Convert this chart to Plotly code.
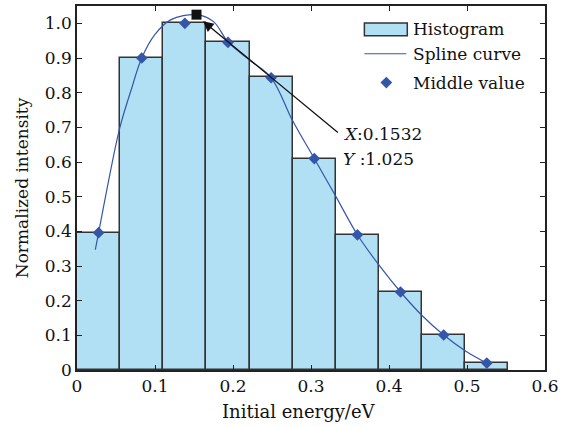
import plotly.graph_objects as go

# ---- data ----
bin_centers = [0.0277, 0.0830, 0.1383, 0.1936, 0.2489, 0.3042, 0.3595, 0.4148, 0.4701, 0.5254]
bin_width = 0.0553
hist_heights = [0.395, 0.900, 1.000, 0.946, 0.844, 0.610, 0.390, 0.226, 0.101, 0.020]
middle_x = [0.0277, 0.0830, 0.1383, 0.1936, 0.2489, 0.3042, 0.3595, 0.4148, 0.4701, 0.5254]
middle_y = [0.396, 0.900, 1.000, 0.945, 0.843, 0.610, 0.390, 0.225, 0.101, 0.020]
spline_x = [0.0235, 0.0277, 0.040, 0.055, 0.070, 0.083, 0.100, 0.120, 0.1532, 0.175,
            0.194, 0.222, 0.249, 0.2767, 0.3042, 0.332, 0.3595, 0.387, 0.4148, 0.442,
            0.4701, 0.498, 0.5254]
spline_y = [0.347, 0.396, 0.540, 0.700, 0.812, 0.900, 0.968, 1.010, 1.025, 1.005,
            0.945, 0.893, 0.843, 0.718, 0.610, 0.500, 0.390, 0.303, 0.225, 0.158,
            0.101, 0.055, 0.020]
peak_x, peak_y = 0.1532, 1.025
x_ticks = [0, 0.1, 0.2, 0.3, 0.4, 0.5, 0.6]
x_tick_text = ["0", "0.1", "0.2", "0.3", "0.4", "0.5", "0.6"]
y_ticks = [0, 0.1, 0.2, 0.3, 0.4, 0.5, 0.6, 0.7, 0.8, 0.9, 1.0]
y_tick_text = ["0", "0.1", "0.2", "0.3", "0.4", "0.5", "0.6", "0.7", "0.8", "0.9", "1.0"]

FONT = "DejaVu Serif"
BAR_FILL = "#b1e0f5"
EDGE = "#333333"
BLUE = "#3556a8"

fig = go.Figure()
fig.add_trace(go.Bar(x=bin_centers, y=hist_heights, width=[bin_width] * len(bin_centers),
                     marker=dict(color=BAR_FILL, line=dict(color=EDGE, width=1.5)),
                     showlegend=False))
fig.add_trace(go.Scatter(x=spline_x, y=spline_y, mode="lines",
                         line=dict(color=BLUE, width=1.2, shape="spline"), showlegend=False))
fig.add_trace(go.Scatter(x=middle_x, y=middle_y, mode="markers",
                         marker=dict(symbol="diamond", size=9, color=BLUE), showlegend=False))
fig.add_trace(go.Scatter(x=[peak_x], y=[peak_y], mode="markers",
                         marker=dict(symbol="square", size=10, color="#111111"), showlegend=False))

# arrow from label to the peak
fig.add_annotation(x=0.1617, y=1.006, ax=0.3364, ay=0.6816, xref="x", yref="y",
                   axref="x", ayref="y", text="", showarrow=True, arrowhead=2,
                   arrowsize=1.6, arrowwidth=1.3, arrowcolor="#111111")
fig.add_annotation(x=0.3385, y=0.680, xref="x", yref="y", xanchor="left", yanchor="middle",
                   text="<i>X</i>:0.1532", showarrow=False, font=dict(family=FONT, size=17, color="#111"))
fig.add_annotation(x=0.3385, y=0.610, xref="x", yref="y", xanchor="left", yanchor="middle",
                   text="<i>Y</i> :1.025", showarrow=False, font=dict(family=FONT, size=17, color="#111"))

# manual legend (paper coordinates)
def px2paper(px, py):
    return (px - 77) / 469.0, (370 - py) / 366.0

x0, y0 = px2paper(365, 21)
x1, y1 = px2paper(408, 34)
fig.add_shape(type="rect", xref="paper", yref="paper", x0=x0, y0=y1, x1=x1, y1=y0,
              fillcolor=BAR_FILL, line=dict(color=EDGE, width=1.5))
lx0, ly = px2paper(365, 52)
lx1, _ = px2paper(407, 52)
fig.add_shape(type="line", xref="paper", yref="paper", x0=lx0, y0=ly, x1=lx1, y1=ly,
              line=dict(color=BLUE, width=1.2))
dx, dy = px2paper(387, 81)
fig.add_trace(go.Scatter(x=[dx], y=[dy], xaxis="x2", yaxis="y2", mode="markers",
                         marker=dict(symbol="diamond", size=9, color=BLUE), showlegend=False,
                         hoverinfo="skip"))
for label, py in [("Histogram", 27.5), ("Spline curve", 52), ("Middle value", 81)]:
    tx, ty = px2paper(412, py)
    fig.add_annotation(x=tx, y=ty, xref="paper", yref="paper", xanchor="left", yanchor="middle",
                       text=label, showarrow=False, font=dict(family=FONT, size=17, color="#111"))

# x-axis title placed as in the reference
tx, ty = px2paper(299, 412)
fig.add_annotation(x=tx, y=ty, xref="paper", yref="paper", xanchor="center", yanchor="middle",
                   text="Initial energy/eV", showarrow=False,
                   font=dict(family=FONT, size=18, color="#111"))

axis_common = dict(showline=True, linecolor="#222222", linewidth=1.5, mirror="ticks",
                   ticks="inside", ticklen=5, tickwidth=1.2, tickcolor="#222222",
                   showgrid=False, zeroline=False,
                   tickfont=dict(family=FONT, size=17, color="#111"))
fig.update_layout(
    width=563, height=427,
    margin=dict(l=77, r=17, t=4, b=57),
    paper_bgcolor="white", plot_bgcolor="white",
    bargap=0, showlegend=False,
    xaxis=dict(range=[0, 0.6], tickvals=x_ticks, ticktext=x_tick_text, **axis_common),
    yaxis=dict(range=[0, 1.05], tickvals=y_ticks, ticktext=y_tick_text,
               title=dict(text="Normalized intensity", font=dict(family=FONT, size=17, color="#111"),
                          standoff=12), **axis_common),
    xaxis2=dict(range=[0, 1], overlaying="x", visible=False),
    yaxis2=dict(range=[0, 1], overlaying="y", visible=False),
)

fig.write_html("out.html")
